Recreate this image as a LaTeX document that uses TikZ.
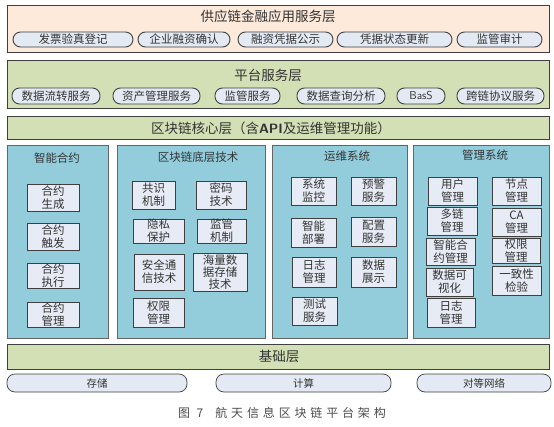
\documentclass[tikz,border=0pt]{standalone}
\usepackage{fontspec}
\setmainfont{Noto Sans CJK SC}
\newfontfamily\capfont[LetterSpace=32]{Noto Sans CJK SC}
\definecolor{peach}{HTML}{FDEADB}
\definecolor{lgreen}{HTML}{D3DFB5}
\definecolor{teal}{HTML}{93CDDC}
\definecolor{pillc}{HTML}{E4EAF4}
\definecolor{iboxc}{HTML}{E6EBF5}
\definecolor{bord}{HTML}{3F3F3F}
\definecolor{txt}{HTML}{333333}
\newcommand{\mybox}[7]{%
  \node[#6, minimum width={#4-#2}, minimum height={#5-#3}] (#1) at ({(#2+#4)/2},{(#3+#5)/2}) {#7};}
\tikzset{
  layer/.style={draw=bord, line width=0.9pt, inner sep=0pt},
  ltitle/.style={font=\fontsize{13.5}{15}\selectfont, text=txt, inner sep=0pt},
  pill/.style={draw=bord, line width=0.9pt, fill=pillc, rounded corners=7.5pt, inner sep=0pt, font=\fontsize{11.5}{13}\selectfont, text=txt},
  bpill/.style={draw=bord, line width=0.7pt, fill=pillc, rounded corners=8pt, inner sep=0pt, font=\fontsize{10.5}{12}\selectfont, text=txt},
  colbox/.style={draw=bord!80, line width=0.9pt, fill=teal, inner sep=0pt},
  ctitle/.style={font=\fontsize{11.5}{13}\selectfont, text=txt, inner sep=0pt},
  ibox/.style={draw=bord, line width=0.9pt, fill=iboxc, inner sep=0pt, align=center, font=\fontsize{11.5}{13}\selectfont, text=txt}
}
\begin{document}
\begin{tikzpicture}[x=1pt,y=-1pt]
\useasboundingbox (0,0) rectangle (554,426);
\fill[white] (0,0) rectangle (554,426);
% application layer
\mybox{app}{7}{5}{549}{52}{layer,fill=peach}{}
\node[ltitle] (appt) at (268,16) {供应链金融应用服务层};
\mybox{a1}{13}{32}{133}{47}{pill}{发票验真登记}
\mybox{a2}{138}{32}{230}{47}{pill}{企业融资确认}
\mybox{a3}{238}{32}{333}{47}{pill}{融资凭据公示}
\mybox{a4}{337}{32}{452}{47}{pill}{凭据状态更新}
\mybox{a5}{457}{32}{542}{47}{pill}{监管审计}
% platform layer
\mybox{plat}{7}{60}{549}{108}{layer,fill=lgreen}{}
\node[ltitle] (platt) at (268,75) {平台服务层};
\mybox{b1}{12}{88}{100}{104}{pill}{数据流转服务}
\mybox{b2}{113}{88}{200}{104}{pill}{资产管理服务}
\mybox{b3}{215}{88}{280}{104}{pill}{监管服务}
\mybox{b4}{297}{88}{385}{104}{pill}{数据查询分析}
\mybox{b5}{397}{88}{445}{104}{pill}{\sffamily BasS}
\mybox{b6}{457}{88}{544}{104}{pill}{跨链协议服务}
% core layer
\mybox{core}{7}{116}{549}{139}{layer,fill=lgreen}{}
\node[ltitle] (coret) at (271,128) {区块链核心层（含{\sffamily\bfseries API}及运维管理功能）};
% columns
\mybox{c1}{7}{145}{108}{338}{colbox}{}
\mybox{c2}{117}{145}{265}{338}{colbox}{}
\mybox{c3}{272}{145}{407}{338}{colbox}{}
\mybox{c4}{413}{145}{549}{338}{colbox}{}
\node[ctitle] (c1t) at (57,158) {智能合约};
\node[ctitle] (c2t) at (198,157) {区块链底层技术};
\node[ctitle] (c3t) at (347,156) {运维系统};
\node[ctitle] (c4t) at (485,155) {管理系统};
% column 1
\mybox{s1}{27}{184}{79}{211}{ibox}{合约\\生成}
\mybox{s2}{27}{223}{79}{250}{ibox}{合约\\触发}
\mybox{s3}{27}{263}{79}{288}{ibox}{合约\\执行}
\mybox{s4}{27}{302}{79}{327}{ibox}{合约\\管理}
% column 2
\mybox{t1}{132}{181}{175}{209}{ibox}{共识\\机制}
\mybox{t2}{196}{181}{246}{209}{ibox}{密码\\技术}
\mybox{t3}{133}{219}{184}{243}{ibox}{隐私\\保护}
\mybox{t4}{197}{219}{246}{243}{ibox}{监管\\机制}
\mybox{t5}{134}{254}{184}{290}{ibox}{安全通\\信技术}
\mybox{t6}{193}{253}{247}{291}{ibox,font=\fontsize{11.5}{12}\selectfont}{海量数\\据存储\\技术}
\mybox{t7}{133}{298}{184}{327}{ibox}{权限\\管理}
% column 3
\mybox{u1}{291}{177}{336}{205}{ibox}{系统\\监控}
\mybox{u2}{351}{177}{396}{205}{ibox}{预警\\服务}
\mybox{u3}{291}{218}{336}{247}{ibox}{智能\\部署}
\mybox{u4}{351}{217}{396}{246}{ibox}{配置\\服务}
\mybox{u5}{292}{257}{336}{287}{ibox}{日志\\管理}
\mybox{u6}{351}{257}{396}{287}{ibox}{数据\\展示}
\mybox{u7}{292}{297}{337}{325}{ibox}{测试\\服务}
% column 4
\mybox{v1}{428}{177}{477}{205}{ibox}{用户\\管理}
\mybox{v2}{427}{207}{477}{235}{ibox}{多链\\管理}
\mybox{v3}{426}{238}{475}{265}{ibox}{智能合\\约管理}
\mybox{v4}{426}{268}{473}{296}{ibox}{数据可\\视化}
\mybox{v5}{427}{298}{475}{327}{ibox}{日志\\管理}
\mybox{w1}{492}{177}{541}{205}{ibox}{节点\\管理}
\mybox{w2}{492}{208}{541}{236}{ibox}{CA\\管理}
\mybox{w3}{492}{238}{540}{263}{ibox}{权限\\管理}
\mybox{w4}{492}{266}{541}{295}{ibox}{一致性\\检验}
% base layer
\mybox{base}{7}{344}{549}{369}{layer,fill=lgreen}{}
\node[ltitle] (baset) at (279,356) {基础层};
\mybox{d1}{7}{374}{187}{392}{bpill}{存储}
\mybox{d2}{216}{374}{391}{392}{bpill}{计算}
\mybox{d3}{417}{374}{551}{392}{bpill}{对等网络}
% caption
\node[inner sep=0pt, text=black!70, font=\capfont\fontsize{12}{14}\selectfont] (cap) at (282,413) {图 7\quad 航天信息区块链平台架构};
\end{tikzpicture}
\end{document}
